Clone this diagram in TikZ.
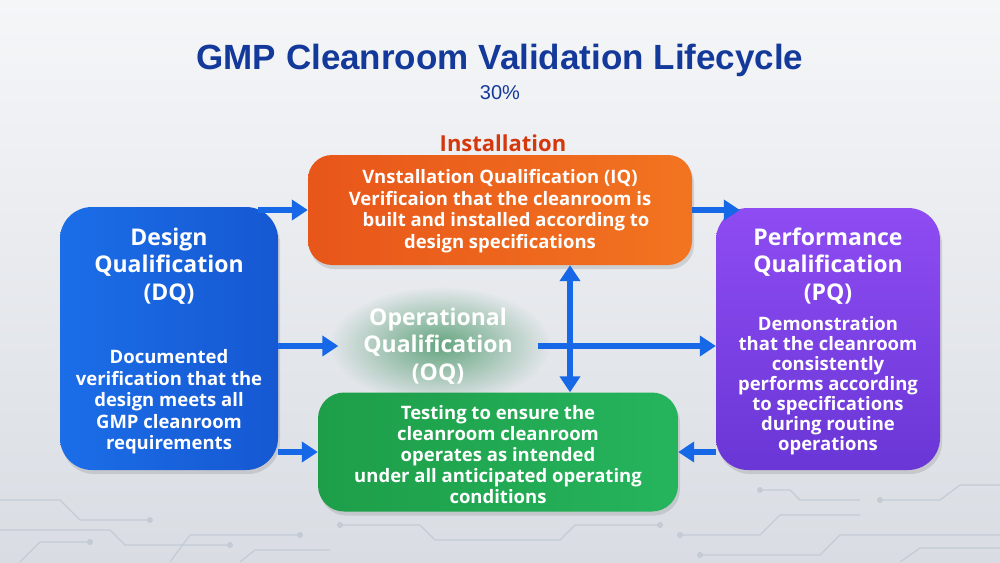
\documentclass[tikz,border=0pt]{standalone}
\usepackage{fontspec}
\setmainfont{Open Sans}
\newfontfamily\titlefont{Liberation Sans}
\usetikzlibrary{arrows.meta,shadows,fadings,calc}
\definecolor{bgtop}{HTML}{F5F6F8}
\definecolor{bgbot}{HTML}{D9DDE3}
\definecolor{titleblue}{HTML}{13399A}
\definecolor{instred}{HTML}{D4380D}
\definecolor{arrowblue}{HTML}{1768E6}
\definecolor{dqA}{HTML}{1B6EE8}
\definecolor{dqB}{HTML}{1558D2}
\definecolor{iqA}{HTML}{E8561A}
\definecolor{iqB}{HTML}{F27420}
\definecolor{pqA}{HTML}{8E4CF2}
\definecolor{pqB}{HTML}{6A36D6}
\definecolor{oqA}{HTML}{1E9E49}
\definecolor{oqB}{HTML}{25B45C}
\definecolor{glowgreen}{HTML}{2F8A52}
\definecolor{trace}{HTML}{C4CBD4}
\tikzfading[name=glowfade, inner color=transparent!0, outer color=transparent!100]
\begin{document}
\begin{tikzpicture}[x=1pt,y=-1pt,
  box/.style={rounded corners=32pt, inner sep=0pt,
    drop shadow={opacity=0.25, shadow xshift=2pt, shadow yshift=-4pt}},
  txt/.style={text=white, align=center, inner sep=2pt,
    font=\bfseries\fontsize{18.5}{21.5}\selectfont},
  ttl/.style={text=white, align=center, inner sep=2pt,
    font=\bfseries\fontsize{23}{27.5}\selectfont},
  arr/.style={draw=arrowblue, line width=5.5pt, -{Triangle[length=16pt,width=20pt]}},
  darr/.style={draw=arrowblue, line width=5.5pt, {Triangle[length=16pt,width=20pt]}-{Triangle[length=16pt,width=20pt]}},
  tr/.style={draw=trace, line width=1.2pt},
  pad/.style={fill=trace}
]
\useasboundingbox (0,0) rectangle (1000,562);
\shade[top color=bgtop, bottom color=bgbot] (0,0) rectangle (1000,562);

% circuit traces at the bottom
\draw[tr] (0,500) -- (60,500) -- (80,520) -- (150,520);
\fill[pad] (150,520) circle (3pt);
\draw[tr] (0,530) -- (110,530) -- (125,545) -- (230,545);
\fill[pad] (230,545) circle (3pt);
\draw[tr] (20,562) -- (40,542) -- (90,542);
\fill[pad] (90,542) circle (3pt);
\draw[tr] (170,562) -- (190,535) -- (300,535);
\fill[pad] (300,535) circle (3pt);
\draw[tr] (240,562) -- (255,550) -- (330,550);
\draw[tr] (680,535) -- (760,535) -- (780,515) -- (860,515);
\fill[pad] (680,535) circle (3pt);
\draw[tr] (700,555) -- (820,555) -- (840,535) -- (1000,535);
\fill[pad] (700,555) circle (3pt);
\draw[tr] (880,500) -- (940,500) -- (960,485) -- (1000,485);
\fill[pad] (880,500) circle (3pt);
\draw[tr] (900,562) -- (920,548) -- (1000,548);
\draw[tr] (760,490) -- (790,490) -- (800,500) -- (860,500);
\fill[pad] (760,490) circle (3pt);
\draw[tr] (340,525) -- (420,525) -- (435,540) -- (560,540) -- (575,525) -- (660,525);
\fill[pad] (340,525) circle (3pt);
\fill[pad] (660,525) circle (3pt);

% title
\node[font=\titlefont\bfseries\fontsize{35}{40}\selectfont, text=titleblue] (title) at (500,60) {GMP Cleanroom Validation Lifecycle};
\node[font=\titlefont\fontsize{20}{22}\selectfont, text=titleblue] (pct) at (500,93) {30\%};
\node[font=\bfseries\fontsize{22}{26}\selectfont, text=instred] (inst) at (503,143) {Installation};

% boxes
\node[box, left color=dqA, right color=dqB, minimum width=218pt, minimum height=263pt] (dq) at (169,338.5) {};
\node[box, rounded corners=24pt, left color=iqA, right color=iqB, minimum width=384pt, minimum height=110pt] (iq) at (500,210) {};
\node[box, top color=pqA, bottom color=pqB, minimum width=224pt, minimum height=262pt] (pq) at (828,339) {};
\node[box, rounded corners=26pt, left color=oqA, right color=oqB, minimum width=360pt, minimum height=119pt] (oq) at (498,452) {};

% glow behind OQ label
\fill[glowgreen, fill opacity=0.7, path fading=glowfade] (440,345) ellipse (110pt and 58pt);
\node[ttl, minimum width=199pt, minimum height=70pt] (oql) at (438,346) {Operational\\Qualification\\(OQ)};

% texts
\node[ttl] (dqt) at (169,266) {Design\\Qualification\\(DQ)};
\node[txt] (dqb) at (169,402) {Documented\\verification that the\\design meets all\\GMP cleanroom\\requirements};
\node[txt] (iqt) at (500,211) {Vnstallation Qualification (IQ)\\Verificaion that the cleanroom is\\\hspace{12pt}built and installed according to\\design specifications};
\node[ttl] (pqt) at (828,266) {Performance\\Qualification\\(PQ)};
\node[txt, font=\bfseries\fontsize{18.5}{20}\selectfont] (pqb) at (828,386) {Demonstration\\that the cleanroom\\consistently\\performs according\\to specifications\\during routine\\operations};
\node[txt, font=\bfseries\fontsize{18.5}{21}\selectfont] (oqb) at (498,455) {Testing to ensure the\\cleanroom cleanroom\\operates as intended\\under all anticipated operating\\conditions};

% connectors
\draw[arr] ([xshift=-20pt]dq.north east |- iq.west) -- (iq.west);
\draw[arr] (iq.east) -- ([xshift=24pt]pq.north west |- iq.east);
\draw[arr] (dq.east |- oql.west) -- (oql.west);
\draw[arr] (oql.east) -- (oql.east -| pq.west);
\draw[darr] ([xshift=70pt]iq.south) -- ([xshift=72pt]oq.north);
\draw[arr] (dq.east |- oq.west) -- (oq.west);
\draw[arr] (pq.west |- oq.east) -- (oq.east);
\end{tikzpicture}
\end{document}
